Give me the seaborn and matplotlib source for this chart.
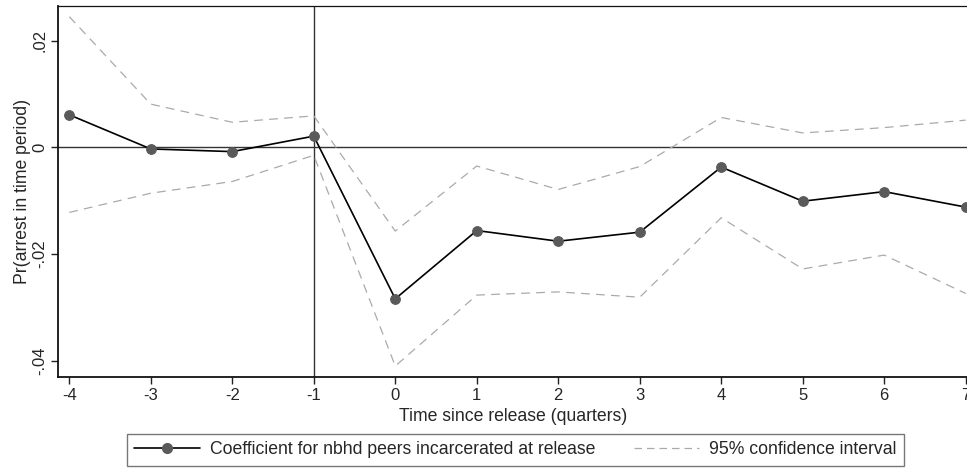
import matplotlib
matplotlib.use("Agg")
import matplotlib.pyplot as plt
import seaborn as sns
import pandas as pd
from matplotlib.lines import Line2D

quarters = [-4, -3, -2, -1, 0, 1, 2, 3, 4, 5, 6, 7]
coef = [0.0061, -0.0003, -0.0008, 0.0021, -0.0284, -0.0156, -0.0176, -0.0159,
        -0.0037, -0.0101, -0.0083, -0.0112]
ci_upper = [0.0245, 0.0081, 0.0047, 0.0059, -0.0157, -0.0035, -0.0079, -0.0036,
            0.0056, 0.0027, 0.0037, 0.0051]
ci_lower = [-0.0122, -0.0086, -0.0064, -0.0015, -0.0410, -0.0277, -0.0271, -0.0281,
            -0.0132, -0.0228, -0.0202, -0.0274]
yticks = [-0.04, -0.02, 0.0, 0.02]
ytick_labels = ["-.04", "-.02", "0", ".02"]

sns.set_theme(style="white")
plt.rcParams["font.family"] = ["Liberation Sans", "DejaVu Sans"]

df = pd.DataFrame({"t": quarters, "coef": coef, "hi": ci_upper, "lo": ci_lower})

fig = plt.figure(figsize=(9.67, 4.68), dpi=100)
ax = fig.add_axes([58.3 / 967, 1 - 376.7 / 468, 1 - 58.3 / 967, (376.7 - 6) / 468])

ci_color = "#aaaaaa"
sns.lineplot(data=df, x="t", y="hi", ax=ax, color=ci_color, lw=0.9, zorder=2)
sns.lineplot(data=df, x="t", y="lo", ax=ax, color=ci_color, lw=0.9, zorder=2)
for ln in ax.lines:
    ln.set_dashes([7, 5])

ax.axhline(0, color="#333333", lw=1.0, zorder=1)
ax.axvline(-1, color="#333333", lw=1.0, zorder=1)

sns.lineplot(data=df, x="t", y="coef", ax=ax, color="black", lw=1.2,
             marker="o", markersize=7, markerfacecolor="#5a5a5a",
             markeredgecolor="#5a5a5a", zorder=3)

ax.set_xlim(-4.135, 7.016)
ax.set_ylim(-0.0430, 0.0265)
ax.set_xticks(quarters)
ax.set_xticklabels([str(q) for q in quarters])
ax.set_yticks(yticks)
ax.set_yticklabels(ytick_labels, rotation=90, va="center")

ax.tick_params(axis="both", which="major", direction="out", length=5, width=1,
               color="#222222", labelsize=12, pad=3, bottom=True, left=True)
for side in ["left", "bottom"]:
    ax.spines[side].set_color("#111111")
    ax.spines[side].set_linewidth(1.3)
ax.spines["top"].set_color("#111111")
ax.spines["top"].set_linewidth(0.9)
ax.spines["right"].set_visible(False)

ax.set_xlabel("Time since release (quarters)", fontsize=12.7, labelpad=4)
ax.set_ylabel("Pr(arrest in time period)", fontsize=12.7, labelpad=1)

handles = [
    Line2D([], [], color="black", lw=1.2, marker="o", markersize=7,
           markerfacecolor="#5a5a5a", markeredgecolor="#5a5a5a"),
    Line2D([], [], color=ci_color, lw=0.9, dashes=[6, 4]),
]
labels = ["Coefficient for nbhd peers incarcerated at release",
          "95% confidence interval"]
leg = fig.legend(handles, labels, loc="center", ncol=2,
                 bbox_to_anchor=(515.5 / 967, 1 - 450 / 468),
                 frameon=True, fancybox=False, fontsize=12.7,
                 handlelength=3.7, handletextpad=0.57, columnspacing=2.2,
                 borderpad=0.4, borderaxespad=0)
leg.get_frame().set_edgecolor("#555555")
leg.get_frame().set_linewidth(1.0)

fig.savefig("out.png", dpi=100)
